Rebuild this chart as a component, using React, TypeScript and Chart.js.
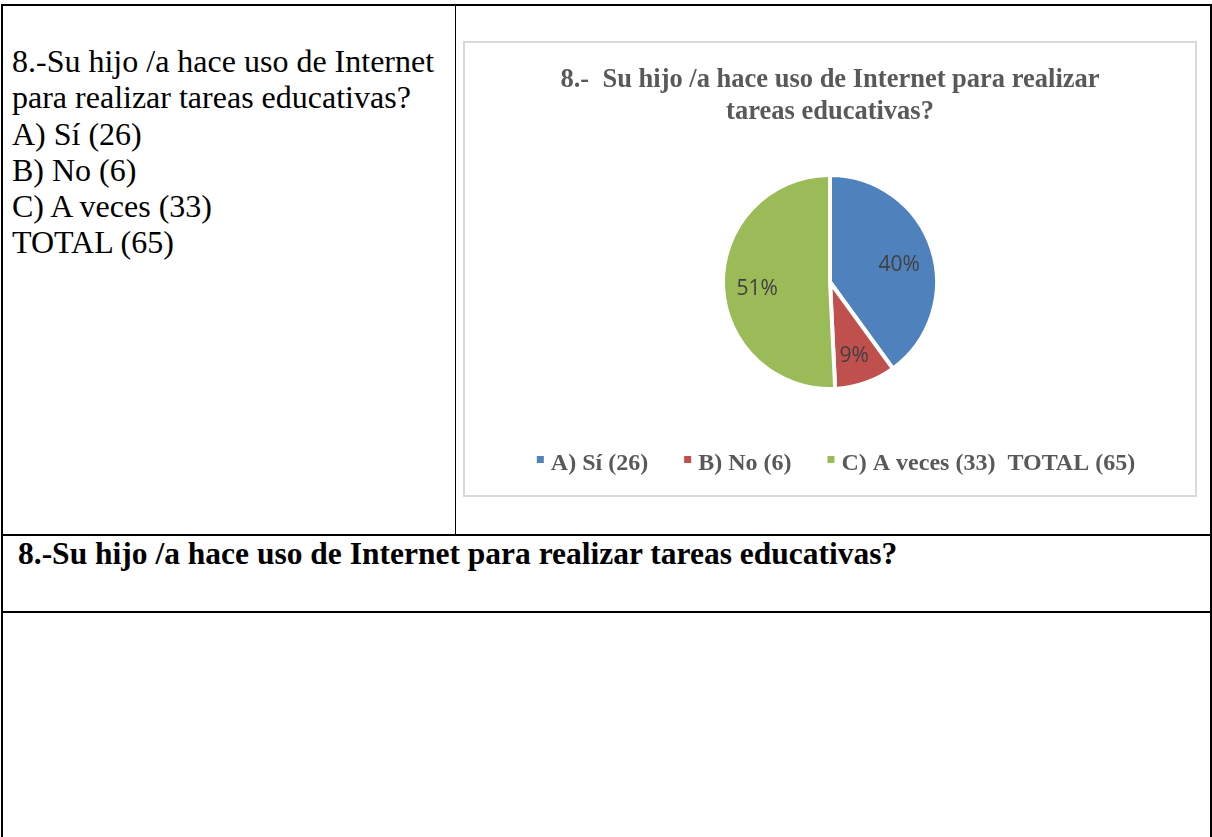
import React, { useEffect, useRef } from "react";
import { Chart, registerables } from "chart.js";

Chart.register(...registerables);

const categories = ["A) Sí (26)", "B) No (6)", "C) A veces (33)  TOTAL (65)"];
const values = [26, 6, 33];
const sliceColors = ["#4F81BD", "#C0504D", "#9BBB59"];
const chartTitle = ["8.-  Su hijo /a hace uso de Internet para realizar", "tareas educativas?"];
const questionLines = [
  "8.-Su hijo /a hace uso de Internet",
  "para realizar tareas educativas?",
  "A) Sí (26)",
  "B) No (6)",
  "C) A veces (33)",
  "TOTAL (65)",
];
const bottomHeading = "8.-Su hijo /a hace uso de Internet para realizar tareas educativas?";

const SERIF = '"Liberation Serif", "Times New Roman", serif';

const sliceLabels = {
  id: "sliceLabels",
  afterDatasetsDraw(chart: any, _args: any, opts: any) {
    const meta = chart.getDatasetMeta(0);
    const data = chart.data.datasets[0].data as number[];
    const total = data.reduce((a: number, b: number) => a + b, 0);
    const ctx = chart.ctx;
    ctx.save();
    ctx.font = `${opts.size}px ${opts.family}`;
    ctx.fillStyle = opts.color;
    ctx.textAlign = "center";
    ctx.textBaseline = "middle";
    meta.data.forEach((arc: any, i: number) => {
      const p = arc.getProps(["x", "y", "startAngle", "endAngle", "outerRadius"], true);
      const mid = (p.startAngle + p.endAngle) / 2;
      const r = p.outerRadius * opts.radial;
      ctx.fillText(
        Math.round((data[i] / total) * 100) + "%",
        p.x + Math.cos(mid) * r,
        p.y + Math.sin(mid) * r + opts.dy
      );
    });
    ctx.restore();
  },
};

const bottomLegend = {
  id: "bottomLegend",
  afterDraw(chart: any, _args: any, opts: any) {
    const ctx = chart.ctx;
    const labels = chart.data.labels as string[];
    const colors = chart.data.datasets[0].backgroundColor as string[];
    ctx.save();
    ctx.font = `bold ${opts.size}px ${opts.family}`;
    const widths = labels.map((l) => ctx.measureText(l).width);
    const itemWidths = widths.map((w) => opts.box + opts.gap + w);
    const total =
      itemWidths.reduce((a, b) => a + b, 0) + opts.spacing * (labels.length - 1);
    let x = chart.width / 2 - total / 2 + opts.offsetX;
    const base = chart.height - opts.bottom;
    labels.forEach((l, i) => {
      ctx.fillStyle = colors[i];
      ctx.fillRect(x, base - opts.boxLift - opts.box, opts.box, opts.box);
      ctx.fillStyle = opts.color;
      ctx.textAlign = "left";
      ctx.textBaseline = "alphabetic";
      ctx.fillText(l, x + opts.box + opts.gap, base);
      x += itemWidths[i] + opts.spacing;
    });
    ctx.restore();
  },
};

function PieChart() {
  const ref = useRef<HTMLCanvasElement>(null);
  useEffect(() => {
    if (!ref.current) return;
    const chart = new Chart(ref.current, {
      type: "pie",
      data: {
        labels: categories,
        datasets: [
          {
            data: values,
            backgroundColor: sliceColors,
            borderColor: "#ffffff",
            borderWidth: 4,
            borderJoinStyle: "miter",
            radius: 107,
          } as any,
        ],
      },
      options: {
        responsive: false,
        animation: false,
        layout: { padding: { top: 0, bottom: 59, left: 0, right: 0 } },
        plugins: {
          legend: { display: false },
          tooltip: { enabled: false },
          title: {
            display: true,
            text: chartTitle,
            color: "#595959",
            font: { family: SERIF, size: 26.5, weight: "bold", lineHeight: 32 / 26.5 },
            padding: { top: 21, bottom: 0 },
          },
          sliceLabels: {
            size: 21,
            family: '"Open Sans", sans-serif',
            color: "#404040",
            radial: 0.68,
            dy: 5,
          },
          bottomLegend: {
            size: 24,
            family: SERIF,
            color: "#595959",
            box: 7,
            gap: 7,
            spacing: 36,
            offsetX: 6,
            bottom: 25,
            boxLift: 7,
          },
        } as any,
      },
      plugins: [sliceLabels, bottomLegend],
    });
    return () => chart.destroy();
  }, []);
  return <canvas ref={ref} width={730} height={452} style={{ display: "block", width: 730, height: 452 }} />;
}

const line = (style: React.CSSProperties) => (
  <div style={{ position: "absolute", background: "#000", ...style }} />
);

export default function App() {
  return (
    <div
      style={{
        position: "absolute",
        left: 0,
        top: 0,
        width: 1212,
        height: 837,
        overflow: "hidden",
        background: "#fff",
        fontFamily: SERIF,
        color: "#000",
      }}
    >
      {line({ left: 1, top: 4, width: 1211, height: 2 })}
      {line({ left: 1, top: 4, width: 2, height: 833 })}
      {line({ left: 1210, top: 4, width: 2, height: 833 })}
      {line({ left: 455, top: 5, width: 1, height: 530 })}
      {line({ left: 1, top: 534, width: 1211, height: 2 })}
      {line({ left: 1, top: 611, width: 1211, height: 2 })}

      <div
        style={{
          position: "absolute",
          left: 12,
          top: 43,
          fontSize: 32,
          lineHeight: "36.3px",
          whiteSpace: "pre",
        }}
      >
        {questionLines.map((t, i) => (
          <div key={i}>{t}</div>
        ))}
      </div>

      <div
        style={{
          position: "absolute",
          left: 463,
          top: 41,
          width: 730,
          height: 452,
          border: "2px solid #d9d9d9",
          background: "#fff",
        }}
      >
        <PieChart />
      </div>

      <div
        style={{
          position: "absolute",
          left: 18,
          top: 536,
          fontSize: 31.5,
          fontWeight: "bold",
          lineHeight: "36px",
          whiteSpace: "pre",
        }}
      >
        {bottomHeading}
      </div>
    </div>
  );
}
